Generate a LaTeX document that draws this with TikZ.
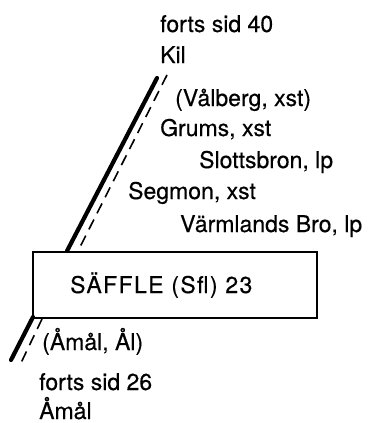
\documentclass[tikz,border=0pt]{standalone}
\usepackage{fontspec}
\setmainfont[FakeBold=0.4]{TeX Gyre Heros}
\begin{document}
\begin{tikzpicture}[x=1pt,y=-1pt,
  lbl/.style={anchor=base west,inner sep=0pt,font=\fontsize{23}{26}\selectfont},
  thickline/.style={line width=4.2pt,line cap=round},
  dashline/.style={line width=1.6pt,dash pattern=on 11pt off 7pt},
  boxstyle/.style={draw,line width=2pt,rectangle,anchor=north west,inner sep=0pt,minimum width=284pt,minimum height=66pt}]
\useasboundingbox (0,0) rectangle (374,423);
\node[boxstyle] (box) at (32,251) {};
\node[lbl] (f40) at (160,32) {forts sid 40};
\node[lbl] (kil) at (160,63) {Kil};
\node[lbl] (valb) at (175,106) {(Vålberg, xst)};
\node[lbl] (grums) at (160,136) {Grums, xst};
\node[lbl] (slott) at (199,168) {Slottsbron, lp};
\node[lbl] (segm) at (128,199) {Segmon, xst};
\node[lbl] (varm) at (180,232) {Värmlands Bro, lp};
\node[lbl] (sfl) at (70,293) {\addfontfeatures{LetterSpace=6}SÄFFLE (Sfl) 23};
\node[lbl] (amal1) at (42,350) {(Åmål, Ål)};
\node[lbl] (f26) at (39,390) {forts sid 26};
\node[lbl] (amal2) at (39,419) {Åmål};
\coordinate (t1) at (157,78);
\coordinate (t2) at (67,251);
\coordinate (d1) at (167,75);
\coordinate (d2) at (80,247);
\coordinate (b1) at (33,317);
\coordinate (b2) at (11,360);
\coordinate (e1) at (42,319);
\coordinate (e2) at (20,365);
\draw[thickline] (t1) -- (t2);
\draw[dashline] (d1) -- (d2);
\draw[thickline] (b1) -- (b2);
\draw[dashline] (e1) -- (e2);
\end{tikzpicture}
\end{document}
